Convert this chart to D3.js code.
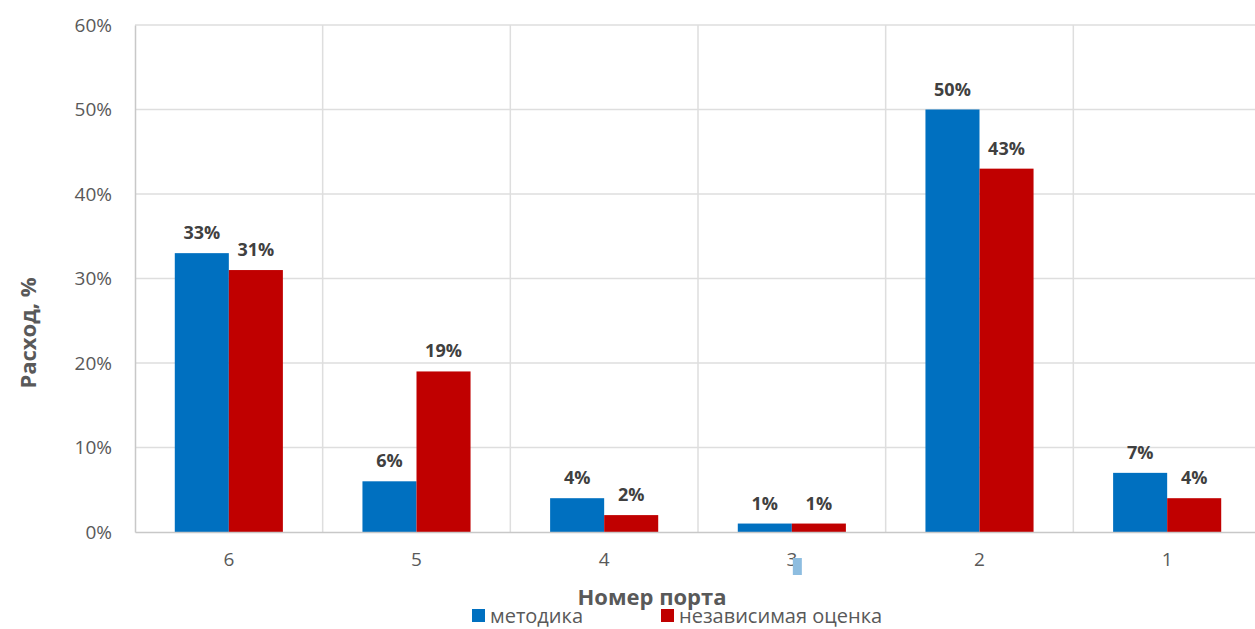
<!DOCTYPE html>
<html>
<head>
<meta charset="utf-8">
<script src="https://cdn.jsdelivr.net/npm/d3@7"></script>
<style>
  html, body { margin: 0; padding: 0; background: #fff; }
  svg { display: block; font-family: "Open Sans", "Noto Sans", sans-serif; }
</style>
</head>
<body>
<svg id="chart" width="1255" height="629"></svg>
<script>
// Port numbers along the x axis
const ports = ["6", "5", "4", "3", "2", "1"];
// Flow share per port, %
const method = [33, 6, 4, 1, 50, 7];
const independent = [31, 19, 2, 1, 43, 4];
// Y axis ticks, %
const yTicks = [0, 10, 20, 30, 40, 50, 60];

const seriesNames = ["методика", "независимая оценка"];
const colors = ["#0070c0", "#c00000"];

const svg = d3.select("#chart");
const margin = { left: 135, top: 25, right: -6, bottom: 97 };
const W = 1255, H = 629;
const x0 = margin.left, x1 = W - margin.right;
const yTop = margin.top, yBot = H - margin.bottom;

const x = d3.scaleBand().domain(ports).range([x0, x1]);
const y = d3.scaleLinear().domain([0, 60]).range([yBot, yTop]);
const barW = x.bandwidth() * 0.288;

// Gridlines
const grid = svg.append("g");
grid.selectAll("line.h").data(yTicks.filter(d => d > 0)).join("line")
  .attr("x1", x0).attr("x2", x1)
  .attr("y1", d => y(d)).attr("y2", d => y(d))
  .attr("stroke", "#dedede").attr("stroke-width", 1.5);
grid.selectAll("line.v").data(ports.slice(1)).join("line")
  .attr("x1", d => x(d)).attr("x2", d => x(d))
  .attr("y1", yTop).attr("y2", yBot)
  .attr("stroke", "#dedede").attr("stroke-width", 1.5);

// Bars
const rows = ports.map((p, i) => ({ port: p, vals: [method[i], independent[i]] }));
const groups = svg.append("g").selectAll("g").data(rows).join("g");
groups.selectAll("rect").data(d => d.vals.map((v, k) => ({ port: d.port, v, k }))).join("rect")
  .attr("x", d => x(d.port) + x.bandwidth() / 2 + (d.k - 1) * barW)
  .attr("width", barW)
  .attr("y", d => y(d.v))
  .attr("height", d => y(0) - y(d.v))
  .attr("fill", d => colors[d.k]);

// Value labels
groups.selectAll("text").data(d => d.vals.map((v, k) => ({ port: d.port, v, k }))).join("text")
  .attr("x", d => x(d.port) + x.bandwidth() / 2 + (d.k - 0.5) * barW)
  .attr("y", d => y(d.v) - 14)
  .attr("text-anchor", "middle")
  .attr("font-size", 18).attr("font-weight", "bold")
  .attr("fill", "#404040")
  .text(d => d.v + "%");

// Axes
const yAxis = d3.axisLeft(y).tickValues(yTicks).tickFormat(d => d + "%").tickSize(0).tickPadding(23);
const gy = svg.append("g").attr("transform", `translate(${x0},0)`).call(yAxis);
gy.select(".domain").attr("stroke", "#c8c8c8").attr("stroke-width", 1.5);
gy.selectAll("text").attr("font-size", 19).attr("fill", "#595959")
  .attr("font-family", "'Open Sans', sans-serif");

const xAxis = d3.axisBottom(x).tickSize(0).tickPadding(21);
const gx = svg.append("g").attr("transform", `translate(0,${yBot})`).call(xAxis);
gx.select(".domain").attr("stroke", "#c8c8c8").attr("stroke-width", 1.5);
gx.selectAll("text").attr("font-size", 19).attr("fill", "#595959")
  .attr("font-family", "'Open Sans', sans-serif");

// Small light-blue mark next to port 3 label
svg.append("rect")
  .attr("x", x("3") + x.bandwidth() / 2 + 1).attr("y", 558)
  .attr("width", 9).attr("height", 17)
  .attr("fill", "#8dbde0");

// Axis titles
svg.append("text")
  .attr("transform", `translate(36,333) rotate(-90)`)
  .attr("text-anchor", "middle")
  .attr("font-size", 22).attr("font-weight", "bold").attr("fill", "#595959")
  .text("Расход, %");
svg.append("text")
  .attr("x", 652).attr("y", 605)
  .attr("text-anchor", "middle")
  .attr("font-size", 22).attr("font-weight", "bold").attr("fill", "#595959")
  .text("Номер порта");

// Legend
const legendX = [472, 661];
const lg = svg.append("g").selectAll("g").data(seriesNames).join("g")
  .attr("transform", (d, i) => `translate(${legendX[i]},617)`);
lg.append("rect").attr("x", 0).attr("y", -8).attr("width", 13).attr("height", 13)
  .attr("fill", (d, i) => colors[i]);
lg.append("text").attr("x", 18).attr("y", 6)
  .attr("font-size", 20).attr("fill", "#595959").text(d => d);
</script>
</body>
</html>
